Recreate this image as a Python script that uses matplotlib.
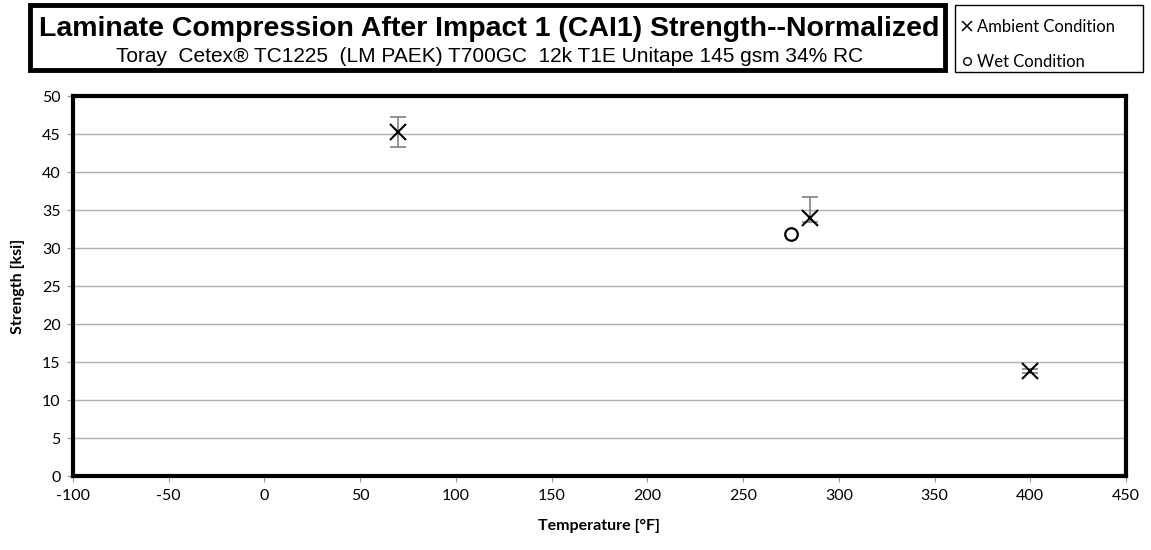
import matplotlib
matplotlib.use("Agg")
import matplotlib.pyplot as plt
from matplotlib.patches import Rectangle
from matplotlib.lines import Line2D

# data
amb_temp = [70, 285, 400]
amb_strength = [45.2, 33.9, 13.8]
amb_err_lo = [1.9, 0.5, 0.3]
amb_err_hi = [2.0, 2.8, 0.3]

wet_temp = [275]
wet_strength = [31.9]

x_ticks = list(range(-100, 451, 50))
y_ticks = list(range(0, 51, 5))

title = "Laminate Compression After Impact 1 (CAI1) Strength--Normalized"
subtitle = "Toray  Cetex® TC1225  (LM PAEK) T700GC  12k T1E Unitape 145 gsm 34% RC"

plt.rcParams["axes.unicode_minus"] = False

W, H = 1151, 550
fig = plt.figure(figsize=(W / 100, H / 100), dpi=100)
ax = fig.add_axes([73 / W, 1 - 476 / H, (1126 - 73) / W, (476 - 96) / H])

ax.set_xlim(-100, 450)
ax.set_ylim(0, 50)
ax.set_xticks(x_ticks)
ax.set_yticks(y_ticks)
ax.grid(axis="y", color="#b0b0b0", linewidth=1.0)
ax.set_axisbelow(True)
ax.tick_params(axis="both", length=4, color="#999999", labelsize=11.5, pad=5)
for lab in ax.get_xticklabels() + ax.get_yticklabels():
    lab.set_family("Lato")
for s in ax.spines.values():
    s.set_linewidth(3)
    s.set_color("black")

ax.errorbar(amb_temp, amb_strength, yerr=[amb_err_lo, amb_err_hi], fmt="none",
            ecolor="#808080", elinewidth=1.2, capsize=6, capthick=1.2, zorder=3)
ax.plot(amb_temp, amb_strength, linestyle="none", marker="x", markersize=12,
        markeredgewidth=1.5, color="black", zorder=4)
ax.plot(wet_temp, wet_strength, linestyle="none", marker="o", markersize=9,
        markerfacecolor="white", markeredgewidth=1.6, markeredgecolor="black", zorder=4)

ax.set_xlabel("Temperature [°F]", family="Lato", fontweight="bold", fontsize=11.5, labelpad=12)
ax.set_ylabel("Strength [ksi]", family="Lato", fontweight="bold", fontsize=11.5, labelpad=12)

# title box
fig.patches.append(Rectangle((30 / W, 1 - 70 / H), (945 - 30) / W, (70 - 5) / H,
                             transform=fig.transFigure, fill=False, edgecolor="black",
                             linewidth=3.5))
fig.text(489 / W, 1 - 29 / H, title, ha="center", va="center", fontsize=20.5,
         fontweight="bold", family="Liberation Sans")
fig.text(490 / W, 1 - 57 / H, subtitle, ha="center", va="center", fontsize=15,
         family="Liberation Sans")

# legend box
fig.patches.append(Rectangle((955 / W, 1 - 72 / H), (1143 - 955) / W, (72 - 5) / H,
                             transform=fig.transFigure, fill=False, edgecolor="black",
                             linewidth=1.0))
fig.legend(handles=[
    Line2D([], [], linestyle="none", marker="x", markersize=7, color="black",
           markeredgewidth=1.1, label="Ambient Condition"),
    Line2D([], [], linestyle="none", marker="o", markersize=5.5, markerfacecolor="white",
           markeredgecolor="black", label="Wet Condition"),
], loc="upper left", bbox_to_anchor=(960 / W, 1 - 17 / H), frameon=False,
    prop={"family": "Lato", "size": 12}, handlelength=0.6, handletextpad=0.3,
    labelspacing=1.15, borderaxespad=0, borderpad=0.1)

fig.savefig("out.png", dpi=100)
